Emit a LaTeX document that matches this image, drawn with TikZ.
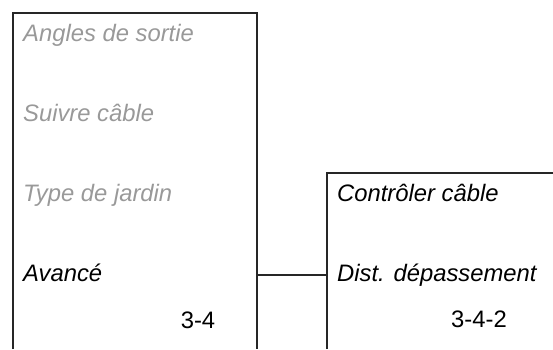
\documentclass[tikz,border=0pt]{standalone}
\usepackage{fontspec}
\setmainfont{Liberation Sans}
\begin{document}
\begin{tikzpicture}[x=1bp,y=1bp,
  menu/.style={font=\fontsize{23.8bp}{29bp}\selectfont\itshape, anchor=base west, inner sep=0pt},
  dim/.style={menu, text=black!40},
  act/.style={menu, text=black},
  num/.style={font=\fontsize{23.8bp}{29bp}\selectfont, anchor=base, inner sep=0pt},
  frame/.style={draw=black!85, line width=1.1bp}]
\useasboundingbox (0,0) rectangle (553,349);
% left menu box (open at bottom)
\draw[frame] (13,0) -- (13,336) -- (257,336) -- (257,0);
% right menu box (open at bottom and right)
\draw[frame] (327,0) -- (327,176) -- (560,176);
\node[dim] (a1) at (23,308) {Angles de sortie};
\node[dim] (a2) at (23,228) {Suivre câble};
\node[dim] (a3) at (23,148) {Type de jardin};
\node[act] (a4) at (23,68) {Avancé};
\node[num] (n1) at (198,21) {3-4};
\node[act] (b1) at (337,148) {Contrôler câble};
\node[act] (b2) at (337,68) {Dist. dépassement};
\node[num] (n2) at (479,22) {3-4-2};
\coordinate (lc) at (257,74);
\coordinate (rc) at (327,74);
\draw[frame] (lc) -- (rc);
\end{tikzpicture}
\end{document}
